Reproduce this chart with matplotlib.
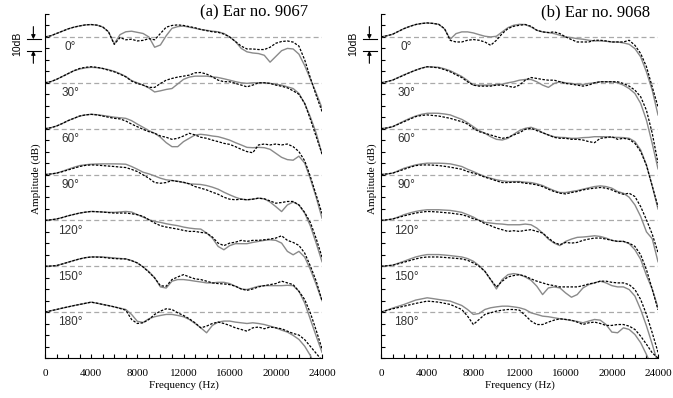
import numpy as np
import matplotlib.pyplot as plt
from matplotlib.ticker import MultipleLocator

# frequency grid (Hz), values below are dB relative to each curve's baseline
freq = np.arange(0, 24001, 500)
angles = [0, 30, 60, 90, 120, 150, 180]
spacing = 40  # dB between baselines

# ---- (a) Ear no. 9067 : measured (dashed) ----
a_meas_0 = [0, 1, 3, 5, 7, 8.5, 9.6, 10.5, 10.8, 10.3,
            8.7, 4.5, -6.5, -0.5, -2.5, -2, -3.5, -3, -1.5, -2.5,
            3, 8.5, 10, 10.5, 10, 9, 8, 6.5, 5.5, 4.5,
            4, 2.5, 0, -4, -8, -10.5, -10.5, -11, -11, -9,
            -5.5, -4, -3.5, -4.5, -8, -20, -36, -51, -65]
a_meas_30 = [0, 1, 3, 5.5, 8, 10.5, 12.5, 13.5, 14, 13.5,
             12.5, 11, 9.6, 7.5, 5.2, 1.5, -0.6, -2, -4, -4,
             -0.6, 2.3, 3.8, 5, 5.8, 6.7, 8.7, 9, 7.6, 5.2,
             2.3, 1, 0.9, -0.5, -2, -3.5, -2, 0, 0, -0.5,
             -2, -3, -4.4, -7, -10, -18, -32, -47, -62]
a_meas_60 = [0, 0.8, 2.3, 4.5, 7, 9, 11, 12, 12.5, 12,
             11, 10, 9, 8.5, 6.7, 4, 1.7, -0.6, -2.6, -4,
             -6.4, -7.5, -9.3, -8.4, -6.4, -4, -5.5, -7.5, -8.4, -10,
             -11.3, -12.8, -13.7, -15.7, -18, -20, -21, -14.2, -13.4, -14.2,
             -13.4, -14.2, -13.4, -15.7, -20, -28, -42, -58, -74]
a_meas_90 = [0, 0.5, 1.2, 2.5, 4, 5.5, 7, 8, 8.4, 8.2,
             7.8, 7.4, 7, 6.5, 6.1, 4.5, 2.6, -0.3, -3.2, -7,
             -7.6, -7, -5.2, -6.1, -6.7, -8.1, -10.5, -11.9, -13.4, -15.4,
             -17.2, -19.8, -21.5, -22, -21.5, -22, -21.5, -20.6, -21.2, -23,
             -25, -24.4, -23.5, -23.5, -26.5, -33, -42, -56, -72]
a_meas_120 = [0, 0.5, 1.2, 2.5, 4, 5.2, 6.4, 7.2, 7.8, 7.6,
              7.3, 6.8, 6.4, 6.4, 6.4, 5.8, 5, 3.5, 0.6, -2.3,
              -4.6, -5.8, -6.7, -7.6, -8.7, -9.6, -9.6, -10.5, -11, -14.5,
              -19.8, -22, -19.8, -19, -17.4, -18.3, -17.4, -17.4, -16.9, -16.3,
              -15.4, -13.4, -17.4, -19.2, -21.8, -28.5, -40, -53, -70]
a_meas_150 = [0, 0.2, 0.6, 2, 3.5, 5, 6.4, 7.5, 8.1, 8,
              7.8, 7.2, 6.7, 6.5, 6.4, 4.9, 2.9, -0.6, -5.2, -10.2,
              -17, -17.4, -11.6, -9.3, -7.3, -9.3, -11, -11.6, -13, -14.5,
              -15.1, -15.4, -16, -17.4, -19.8, -21, -19.8, -18, -16.9, -16,
              -15.1, -13, -14.5, -16, -21.8, -29, -41, -56, -72]
a_meas_180 = [0, 1.2, 2.3, 3.5, 4.6, 5.7, 6.7, 7.7, 8.7, 7.8,
              6.7, 5.7, 4.6, 3.2, 1.7, -6.4, -9.9, -9.3, -6.4, -2,
              0.9, 2.9, 2.3, -0.6, -2.9, -5.8, -9.3, -13.7, -12.2, -9.9,
              -8.7, -9.9, -11.6, -13.7, -15.1, -16.6, -13.7, -13, -14.5, -13,
              -13.7, -14.5, -16.6, -18.6, -20, -24, -30, -36, -42]

# ---- (a) Ear no. 9067 : model (solid grey) ----
a_model_0 = [0, 1, 3, 5, 7, 8.5, 9.6, 10.5, 10.8, 10.3,
             8.7, 4.5, -6, 2, 4.5, 5, 4, 3, 0, -9,
             -7, 1, 7.5, 9, 9.5, 8.5, 7.5, 6.5, 5.8, 5,
             4.5, 3, 0, -4, -10, -13, -14, -14.5, -16, -22,
             -17, -12, -10, -10.5, -15, -25, -37, -49, -62]
a_model_30 = [0, 1, 3, 5.5, 8, 10.5, 12, 13, 13.5, 13.2,
              12.5, 11.5, 10, 8, 5.5, 2, 0, -2, -4.5, -8,
              -7, -5.8, -5, -1, 3, 5, 5.8, 5.8, 5.8, 5.2,
              4.6, 3.5, 2.3, 1, 0, -0.5, 0, 0, 0, -0.5,
              -1.2, -2, -3.5, -5, -9.3, -18, -30, -44, -62]
a_model_60 = [0, 0.8, 2.3, 4.5, 7, 9, 11, 12, 12.5, 12.2,
              11.5, 10.8, 10, 9.5, 9, 7, 4, 1.2, -1.7, -4,
              -7.5, -12.2, -15.7, -15.7, -11.3, -8.4, -5.5, -4.9, -5.5, -6.4,
              -7, -8.4, -10, -12.2, -14.2, -16.3, -16.6, -16.3, -16.6, -18,
              -21.5, -25, -27, -27.5, -24, -30, -44, -60, -78]
a_model_90 = [0, 0.5, 1.2, 2.8, 4.6, 6.3, 7.8, 8.5, 9, 9.2,
              9.3, 9.3, 9.3, 9.2, 9, 7, 4.6, 2, 0.6, -1.2,
              -3.2, -4.6, -5.2, -5.8, -7, -8.1, -8.4, -8.7, -9.6, -11,
              -12.8, -15.4, -17.7, -19.8, -21.5, -22, -21.5, -20.6, -21.2, -24,
              -28, -32.3, -26.5, -24, -26.5, -33.7, -45, -60, -76]
a_model_120 = [0, 0.5, 1.2, 2.5, 4, 5.2, 6.4, 7.2, 7.8, 7.6,
               7.3, 7.1, 7, 7.4, 7.8, 7.3, 5, 2.9, 0.6, -0.9,
               -1.7, -2.9, -3.8, -4.6, -5.8, -6.7, -7.3, -7.6, -11, -15.4,
               -22.7, -25.6, -22, -20.3, -20.3, -20.3, -19.2, -18.3, -17.4, -16.9,
               -17.4, -19.8, -27, -30, -27, -32, -43, -56, -70]
a_model_150 = [0, 0.2, 0.6, 2, 3.5, 5, 6.4, 7.5, 8.1, 8.2,
               8.1, 7.7, 7.3, 6.8, 6.4, 5, 2.9, -0.6, -4.6, -10,
               -18, -19, -13, -11.6, -11.6, -12.2, -13, -13.7, -14.5, -14.5,
               -14, -14, -15.1, -17.4, -19.8, -20.3, -18.9, -17.4, -16.9, -16.9,
               -16.9, -16.9, -16.6, -16.9, -21.8, -32, -46.5, -61, -75]
a_model_180 = [0, 1.2, 2.3, 3.5, 4.6, 5.7, 6.7, 7.7, 8.7, 7.8,
               6.7, 5.7, 4.6, 3.5, 2.3, -2, -8, -9, -5.8, -4,
               -2.9, -2, -2, -2.9, -4, -6.4, -9.9, -13.7, -18, -11.6,
               -8.7, -7.8, -7.8, -8.7, -9.3, -9.9, -9.3, -9.9, -10.8, -12.2,
               -13.7, -15.7, -17.4, -20.3, -23.8, -29.7, -38, -50, -62]

# ---- (b) Ear no. 9068 : measured (dashed) ----
b_meas_0 = [0, 1, 2.3, 4.8, 7.3, 9.2, 10.8, 11.7, 12.2, 11.8,
            11, 7.3, -3, -4.4, -4.4, -2.9, -2.3, -2.9, -4.4, -7.3,
            -2.9, 2.9, 7.3, 9.3, 10.2, 10.8, 9.3, 5.8, 4.4, 3.8,
            4.4, 2.9, 0, -2.3, -4.4, -4.4, -4.4, -2.9, -2.9, -3.5,
            -4.4, -4.4, -4.4, -2.9, -7.3, -14.5, -26, -43.6, -61]
b_meas_30 = [0, 1, 2.3, 4.5, 6.7, 9, 11, 12.7, 14, 13.6,
             13, 11.5, 9.6, 7, 4.6, 0.9, -2, -2.9, -2.9, -2.9,
             -2, -2, -2.9, -4, -2, 2.3, 4.6, 3.8, 2.9, 2.3,
             2.3, 0.9, -0.6, -1.2, -2, -2.9, -2, 0, 0.9, 0.9,
             0.9, 0.9, -0.6, -2.9, -6.4, -12.2, -24, -44, -70]
b_meas_60 = [0, 0.6, 1.7, 3.9, 6.1, 8.3, 10.5, 11.5, 12, 11.5,
             11, 10, 9, 7.5, 6.1, 4, 0.3, -2.6, -4, -5.5,
             -7, -8.4, -7.6, -5.5, -3.5, -0.6, 0.3, -1.7, -3.5, -5.5,
             -7.6, -8.4, -8.4, -9.3, -9.3, -9.9, -11.3, -12.2, -8.4, -7.8,
             -7, -9.3, -8.4, -9.3, -12.8, -20, -32, -50, -68]
b_meas_90 = [0, 0.5, 1.2, 2.8, 4.6, 6.3, 7.8, 8.3, 8.4, 8.2,
             7.8, 7.2, 6.4, 5.5, 4.6, 2.6, 1.2, -0.3, -2.3, -3.8,
             -5.5, -7, -7, -6.7, -6.7, -7.6, -8.1, -9, -10.5, -12.8,
             -14.8, -16.3, -16.9, -15.7, -14.8, -13.4, -12.5, -11.9, -11.3, -11.9,
             -13.4, -15.7, -17.2, -16.3, -19.2, -28, -39.5, -52, -68]
b_meas_120 = [0, 0.5, 1.2, 2.5, 4, 5.2, 6.4, 7.2, 7.8, 7.6,
              7.3, 6.8, 6.4, 5.7, 5, 3.5, 1.5, 0, -2.9, -4.6,
              -6.7, -8.1, -9.6, -9, -9.6, -8.7, -8.1, -9.6, -11, -15.4,
              -19.2, -21.2, -19.2, -19.8, -19.2, -17.4, -16.3, -15.4, -15.4, -16.3,
              -17.4, -18.3, -18.3, -19.8, -22.7, -30, -43, -60, -78]
b_meas_150 = [0, 0.4, 0.9, 2.2, 3.5, 5, 6.4, 7.5, 8.1, 8.1,
              8.1, 7.7, 7.3, 6.9, 6.4, 5.2, 2.9, 0, -4.4, -11.6,
              -18, -13, -9.3, -8.1, -7.3, -8.7, -11, -13, -14.5, -16,
              -16.9, -18, -18, -18, -18, -16.9, -15.4, -14.5, -13, -13,
              -14, -14.5, -14.5, -16, -20.3, -29, -42, -58, -75]
b_meas_180 = [0, 1.5, 2.9, 4, 5.2, 6.4, 7.6, 8.6, 9.6, 9.2,
              8.7, 7.7, 6.7, 4.5, 2.3, -3.5, -10.8, -6.4, -2, -0.6,
              0.9, 1.7, 2.3, 2.3, 1.7, -2.9, -7.8, -10.8, -10.8, -8.7,
              -7, -5.8, -6.4, -7, -8.7, -10.8, -9.3, -8.7, -9.9, -11.6,
              -11.6, -10.8, -10.8, -12.2, -15.1, -21, -28, -35.5, -40]

# ---- (b) Ear no. 9068 : model (solid grey) ----
b_model_0 = [0, 1, 2.3, 4.8, 7.3, 9.2, 10.8, 11.7, 12.2, 11.8,
             11, 7, -2, 2.9, 4.4, 4.4, 3.5, 2, 0.6, 0,
             0.6, 4.4, 8.1, 10.2, 11, 10.8, 8.7, 5.8, 4.4, 3.8,
             2.9, 1.5, 0, -0.6, -1.5, -2, -2.9, -3.5, -3.5, -3.8,
             -4.4, -4.4, -5.2, -6.4, -10.2, -17.4, -30.5, -46.5, -68]
b_model_30 = [0, 1, 2.3, 4.7, 7, 9, 11, 12.8, 14, 13.8,
              13.5, 12.2, 10.5, 8, 5.5, 2, -2, -2, -2, -2,
              -1.5, -1.2, 0, 0.9, 2.3, 2.9, 2.9, 0.9, -2, -4,
              -0.6, 0.9, 0, -0.6, -1.2, -1.5, -0.6, 0, 0.9, 0.9,
              0.9, 0, -2, -5, -9.3, -18, -32.6, -53, -75]
b_model_60 = [0, 0.6, 1.7, 4.2, 6.7, 9, 11, 12.5, 13.4, 13.5,
              13.4, 12.8, 12, 10, 8.1, 5.2, 1.7, -1.7, -4, -7,
              -9.3, -9.9, -8.4, -4.9, -1.7, 0.3, 1.2, -0.6, -3.5, -5.5,
              -7, -7.6, -7.8, -8.4, -8.4, -7.8, -7.6, -7, -7, -7,
              -7.6, -7.6, -7.8, -8.4, -11.3, -18.6, -31.7, -50, -70]
b_model_90 = [0, 0.5, 1.2, 3.3, 5.5, 7, 8.4, 9.3, 9.9, 9.9,
              9.9, 9.7, 9.3, 8.2, 7, 4.6, 2.6, 0.3, -1.7, -3.2,
              -4.6, -5.5, -6.1, -6.1, -6.1, -6.7, -7, -8.1, -9.6, -11.9,
              -14, -15.7, -15.7, -14.8, -14, -12.8, -11.6, -10.5, -9.9, -10.5,
              -11.9, -14.8, -16.3, -19.8, -26.5, -36.6, -50, -56, -76]
b_model_120 = [0, 0.5, 1.2, 3, 5, 6.5, 7.8, 8.7, 9.3, 9.3,
               9.3, 9, 8.7, 7.9, 7, 5, 2.9, 0, -1.7, -2.3,
               -2.9, -3.2, -3.8, -3.8, -3.8, -3.2, -3.8, -6.7, -11, -16.3,
               -19.8, -22, -18.3, -16.3, -14.8, -14.5, -14, -13.4, -14, -15.4,
               -17.4, -18.3, -18.3, -20.3, -25.6, -34, -48, -60, -76]
b_model_150 = [0, 0.4, 0.9, 2.7, 4.4, 6.3, 8.1, 9.3, 10.2, 10.2,
               10.2, 9.8, 9.3, 8.7, 8.1, 6.7, 4.4, 0.6, -4.4, -11.6,
               -19.8, -11.6, -7.3, -6.4, -7.3, -9.3, -12.2, -17.4, -24.7, -18.9,
               -18, -18.9, -23.3, -27, -24.7, -18.9, -16, -14.5, -13, -14.5,
               -16.9, -18, -18, -20.3, -26, -37.8, -52, -68, -85]
b_model_180 = [0, 1.7, 3.5, 5.1, 6.7, 8.6, 10.5, 11.5, 12.5, 11.8,
               11, 10.3, 9.6, 7.7, 5.8, 2.3, -2, -1.2, 2.3, 3.8,
               4.6, 5.2, 5.2, 4.6, 3.8, 2.3, -0.6, -2, -3.5, -4,
               -4.9, -5.8, -6.4, -7.3, -8.1, -9.3, -7.8, -6.4, -7, -10.8,
               -17.4, -18, -13.7, -15.1, -19.5, -26.7, -37, -48, -60]

panels = [
    ("(a) Ear no. 9067", 0.753,
     [a_meas_0, a_meas_30, a_meas_60, a_meas_90, a_meas_120, a_meas_150, a_meas_180],
     [a_model_0, a_model_30, a_model_60, a_model_90, a_model_120, a_model_150, a_model_180]),
    ("(b) Ear no. 9068", 0.773,
     [b_meas_0, b_meas_30, b_meas_60, b_meas_90, b_meas_120, b_meas_150, b_meas_180],
     [b_model_0, b_model_30, b_model_60, b_model_90, b_model_120, b_model_150, b_model_180]),
]

serif = "Liberation Serif"
sans = "Liberation Sans"

fig = plt.figure(figsize=(6.73, 3.98), dpi=100)
lefts = [45 / 673, 381 / 673]

for left, (title, tx, meas, model) in zip(lefts, panels):
    ax = fig.add_axes([left, 40 / 398, 277 / 673, 344 / 398])
    for k, ang in enumerate(angles):
        base = -spacing * k
        ax.axhline(base, color="#aaaaaa", lw=0.9, ls=(0, (4, 2.5)), zorder=1)
        ax.plot(freq, np.array(model[k]) + base, color="#8a8a8a", lw=1.0, zorder=2)
        ax.plot(freq, np.array(meas[k]) + base, color="black", lw=0.9,
                ls=(0, (2, 1.2)), zorder=3)
        ax.text(2200, base - 9, f"{ang}°", ha="center", va="center",
                fontsize=8.5, color="#333333", family=sans)

    ax.set_xlim(0, 24000)
    ax.set_ylim(-280, 20)
    ax.set_xticks(range(0, 24001, 4000))
    ax.xaxis.set_minor_locator(MultipleLocator(1000))
    ax.set_yticks(np.arange(-280, 21, 10))
    ax.tick_params(which="both", direction="in", length=3, width=0.8,
                   labelsize=8, pad=8, labelleft=False)
    for lab in ax.get_xticklabels():
        lab.set_family(serif)
    ax.spines["top"].set_visible(False)
    ax.spines["right"].set_visible(False)
    ax.set_xlabel("Frequency (Hz)", fontsize=8, family=serif, labelpad=2)
    ax.text(-0.03, 0.52, "Amplitude (dB)", rotation=90, ha="center", va="center",
            fontsize=8, family=serif, transform=ax.transAxes)
    ax.text(tx, 1.005, title, ha="center", va="center", fontsize=12,
            family=serif, transform=ax.transAxes)

    # 10 dB scale marker
    tr = ax.get_yaxis_transform()
    for yv in (-2, -12):
        ax.plot([-0.064, -0.016], [yv, yv], color="black", lw=0.8,
                transform=tr, clip_on=False)
    ax.annotate("", xy=(-0.042, -2), xytext=(-0.042, 9), xycoords=tr,
                textcoords=tr, arrowprops=dict(arrowstyle="-|>", color="black",
                                               lw=0.8, mutation_scale=6,
                                               shrinkA=0, shrinkB=0))
    ax.annotate("", xy=(-0.042, -12), xytext=(-0.042, -23), xycoords=tr,
                textcoords=tr, arrowprops=dict(arrowstyle="-|>", color="black",
                                               lw=0.8, mutation_scale=6,
                                               shrinkA=0, shrinkB=0))
    ax.text(-0.101, -6, "10dB", rotation=90, ha="center", va="center",
            fontsize=7.5, family=sans, transform=tr)

fig.savefig("out.png", dpi=100)
